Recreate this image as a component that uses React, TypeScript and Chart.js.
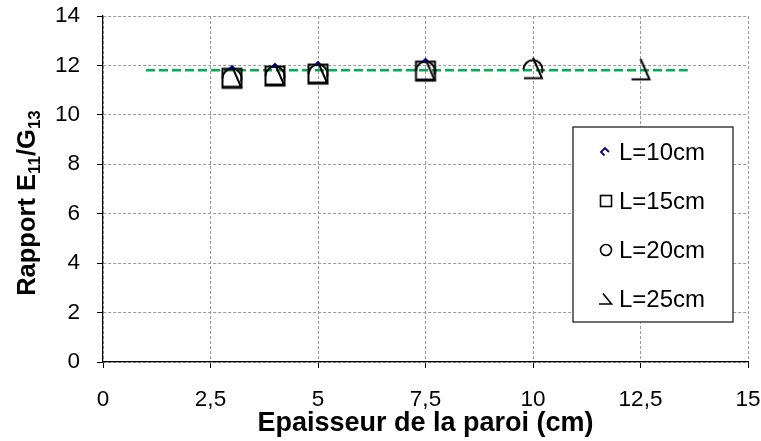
import React, { useEffect, useRef } from 'react';
import { Chart, registerables } from 'chart.js';

Chart.register(...registerables);

const FONT = "'Liberation Sans', Arial, sans-serif";

const xTickLabels = ['0', '2,5', '5', '7,5', '10', '12,5', '15'];
const seriesLabels = ['L=10cm', 'L=15cm', 'L=20cm', 'L=25cm'];

const xL10 = [3, 4, 5, 7.5];
const yL10 = [11.48, 11.57, 11.65, 11.77];
const xL15 = [3, 4, 5, 7.5];
const yL15 = [11.48, 11.57, 11.65, 11.77];
const xL20 = [3, 4, 5, 7.5, 10];
const yL20 = [11.48, 11.57, 11.65, 11.77, 11.83];
const xL25 = [3, 4, 5, 7.5, 10, 12.5];
const yL25 = [11.48, 11.57, 11.65, 11.77, 11.83, 11.78];
const meanX = [1, 13.6];
const meanY = [11.8, 11.8];

const xTitle = 'Epaisseur de la paroi (cm)';
const yTitleParts = [
  { t: 'Rapport E', sub: false },
  { t: '11', sub: true },
  { t: '/G', sub: false },
  { t: '13', sub: true },
];

function makeCanvas(size: number, draw: (ctx: CanvasRenderingContext2D) => void) {
  const c = document.createElement('canvas');
  c.width = size;
  c.height = size;
  const ctx = c.getContext('2d')!;
  ctx.translate(size / 2, size / 2);
  draw(ctx);
  return c;
}

const navy = '#000080';

function drawDiamondTip(ctx: CanvasRenderingContext2D) {
  ctx.strokeStyle = navy;
  ctx.lineWidth = 2;
  ctx.beginPath();
  ctx.moveTo(-2.5, -9.5);
  ctx.lineTo(0, -12);
  ctx.lineTo(2.5, -9.5);
  ctx.stroke();
}
function drawSquare(ctx: CanvasRenderingContext2D) {
  ctx.strokeStyle = '#000';
  ctx.lineWidth = 2;
  ctx.strokeRect(-9.5, -9.5, 19, 19);
}
function drawCircle(ctx: CanvasRenderingContext2D) {
  ctx.strokeStyle = '#000';
  ctx.lineWidth = 2;
  ctx.beginPath();
  ctx.arc(0, 0, 9.5, Math.PI, 2 * Math.PI + 0.35);
  ctx.stroke();
}
function drawTriangle(ctx: CanvasRenderingContext2D) {
  ctx.strokeStyle = '#000';
  ctx.lineWidth = 2;
  ctx.beginPath();
  ctx.moveTo(0, -12);
  ctx.lineTo(9, 8.5);
  ctx.lineTo(-9, 8.5);
  ctx.stroke();
}

// legend markers
function legDiamond(ctx: CanvasRenderingContext2D) {
  ctx.strokeStyle = navy;
  ctx.lineWidth = 1.8;
  ctx.beginPath();
  ctx.moveTo(-1.5, 3.5);
  ctx.lineTo(-5, 0);
  ctx.lineTo(-1, -4);
  ctx.lineTo(3, 0);
  ctx.stroke();
}
function legSquare(ctx: CanvasRenderingContext2D) {
  ctx.strokeStyle = '#000';
  ctx.lineWidth = 1.6;
  ctx.strokeRect(-5.5, -5.5, 11, 11);
}
function legCircle(ctx: CanvasRenderingContext2D) {
  ctx.strokeStyle = '#000';
  ctx.lineWidth = 1.6;
  ctx.beginPath();
  ctx.arc(0, 0, 5.5, 0, Math.PI * 2);
  ctx.stroke();
}
function legTriangle(ctx: CanvasRenderingContext2D) {
  ctx.strokeStyle = '#000';
  ctx.lineWidth = 1.6;
  ctx.beginPath();
  ctx.moveTo(-3, -5.5);
  ctx.lineTo(5.5, 5);
  ctx.lineTo(-7, 5);
  ctx.stroke();
}

export default function App() {
  const ref = useRef<HTMLCanvasElement>(null);

  useEffect(() => {
    if (!ref.current) return;
    const pDiamond = makeCanvas(32, drawDiamondTip);
    const pSquare = makeCanvas(32, drawSquare);
    const pCircle = makeCanvas(32, drawCircle);
    const pTriangle = makeCanvas(32, drawTriangle);
    const legendDrawers = [legDiamond, legSquare, legCircle, legTriangle];

    const overlay = {
      id: 'overlay',
      afterDraw(chart: any) {
        const ctx: CanvasRenderingContext2D = chart.ctx;
        const ca = chart.chartArea;
        // Legend box
        const bx = ca.right - 175;
        const by = ca.top + 111;
        const bw = 160;
        const bh = 195;
        ctx.save();
        ctx.fillStyle = '#fff';
        ctx.fillRect(bx, by, bw, bh);
        ctx.strokeStyle = '#222';
        ctx.lineWidth = 1.3;
        ctx.strokeRect(bx, by, bw, bh);
        ctx.font = `24px ${FONT}`;
        ctx.fillStyle = '#000';
        ctx.textBaseline = 'middle';
        ctx.textAlign = 'left';
        seriesLabels.forEach((lab, i) => {
          const cy = by + 25 + i * 49;
          ctx.save();
          ctx.translate(bx + 33, cy);
          legendDrawers[i](ctx);
          ctx.restore();
          ctx.fillText(lab, bx + 46, cy + 1);
        });
        ctx.restore();

        // Y title with subscripts
        ctx.save();
        ctx.translate(27, 203);
        ctx.rotate(-Math.PI / 2);
        ctx.fillStyle = '#000';
        ctx.textBaseline = 'alphabetic';
        const big = `bold 25.5px ${FONT}`;
        const small = `bold 17px ${FONT}`;
        let total = 0;
        yTitleParts.forEach((p) => {
          ctx.font = p.sub ? small : big;
          total += ctx.measureText(p.t).width;
        });
        let x = -total / 2;
        yTitleParts.forEach((p) => {
          ctx.font = p.sub ? small : big;
          ctx.fillText(p.t, x, p.sub ? 13 : 8);
          x += ctx.measureText(p.t).width;
        });
        ctx.restore();
      },
    };

    const chart = new Chart(ref.current, {
      type: 'scatter',
      data: {
        datasets: [
          {
            label: seriesLabels[0],
            data: xL10.map((x, i) => ({ x, y: yL10[i] })),
            pointStyle: pDiamond as any,
            borderColor: navy,
            backgroundColor: navy,
            showLine: false,
          },
          {
            label: seriesLabels[1],
            data: xL15.map((x, i) => ({ x, y: yL15[i] })),
            pointStyle: pSquare as any,
            showLine: false,
          },
          {
            label: seriesLabels[2],
            data: xL20.map((x, i) => ({ x, y: yL20[i] })),
            pointStyle: pCircle as any,
            showLine: false,
          },
          {
            label: seriesLabels[3],
            data: xL25.map((x, i) => ({ x, y: yL25[i] })),
            pointStyle: pTriangle as any,
            showLine: false,
          },
          {
            label: 'moyenne',
            data: meanX.map((x, i) => ({ x, y: meanY[i] })),
            showLine: true,
            borderColor: '#00B050',
            borderWidth: 2.5,
            borderDash: [9, 4],
            pointRadius: 0,
            pointHoverRadius: 0,
          },
        ],
      },
      options: {
        responsive: false,
        animation: false,
        layout: { padding: { left: 0, top: 16, right: 13, bottom: 0 } },
        plugins: {
          legend: { display: false },
          tooltip: { enabled: false },
        },
        scales: {
          x: {
            type: 'linear',
            min: 0,
            max: 15,
            afterFit: (s: any) => {
              s.height = 79;
              s.paddingLeft = 0;
              s.paddingRight = 0;
            },
            ticks: {
              stepSize: 2.5,
              autoSkip: false,
              maxRotation: 0,
              padding: 18,
              color: '#000',
              font: { family: FONT, size: 22.5 },
              callback: (v: any) => xTickLabels[Math.round(Number(v) / 2.5)] ?? '',
            },
            grid: { color: '#9a9a9a', lineWidth: 1, tickColor: '#000', tickLength: 6 },
            border: { display: true, color: '#000', width: 1.2, dash: [3, 2] },
            title: {
              display: true,
              text: xTitle,
              color: '#000',
              font: { family: FONT, size: 27, weight: 'bold' },
              padding: { top: 0, bottom: 1 },
            },
          },
          y: {
            type: 'linear',
            min: 0,
            max: 14,
            afterFit: (s: any) => {
              s.width = 103;
              s.paddingTop = 0;
              s.paddingBottom = 0;
            },
            ticks: {
              stepSize: 2,
              padding: 17,
              color: '#000',
              font: { family: FONT, size: 22.5 },
            },
            grid: { color: '#9a9a9a', lineWidth: 1, tickColor: '#000', tickLength: 6 },
            border: { display: true, color: '#000', width: 1.2, dash: [3, 2] },
          },
        },
      },
      plugins: [overlay],
    });
    return () => chart.destroy();
  }, []);

  return (
    <div style={{ position: 'fixed', left: 0, top: 0, width: 761, height: 441, background: '#fff' }}>
      <canvas ref={ref} width={761} height={441} style={{ display: 'block' }} />
    </div>
  );
}
